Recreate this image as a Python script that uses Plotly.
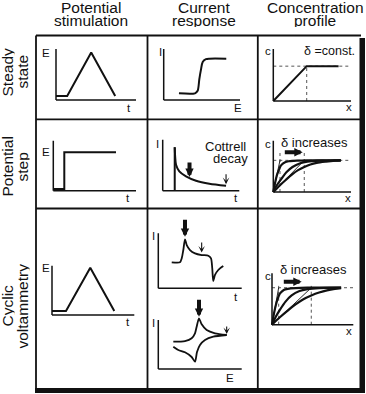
import plotly.graph_objects as go

W, H = 366, 394
INK = "#111111"
DOT = "#555555"
FONT = "Liberation Sans, Arial, Helvetica, sans-serif"

# ---------------- data (normalised units) ----------------
col_titles = [["Potential", "stimulation"], ["Current", "response"], ["Concentration", "profile"]]
row_titles = [["Steady", "state"], ["Potential", "step"], ["Cyclic", "voltammetry"]]

# Steady state
ss_time = [0.0, 0.14, 0.44, 0.74]
ss_potential = [0.08, 0.08, 0.93, 0.08]
ss_E = [0.20, 0.41, 0.445, 0.467, 0.489, 0.511, 0.554, 0.60, 0.82]
ss_I = [0.13, 0.13, 0.18, 0.41, 0.60, 0.745, 0.80, 0.81, 0.81]
ss_x = [0.0, 0.43, 0.84]
ss_c = [0.0, 0.67, 0.67]

# Potential step
ps_time = [0.0, 0.133, 0.133, 0.758]
ps_potential = [0.034, 0.034, 0.768, 0.768]
ps_t = [0.157, 0.163, 0.174, 0.217, 0.304, 0.435, 0.609, 0.827]
ps_I = [0.851, 0.66, 0.51, 0.38, 0.282, 0.196, 0.137, 0.098]
ps_x1 = [0, 0.06, 0.12, 0.19, 0.25, 0.38, 0.5, 0.75, 1.1, 2.18]
ps_c1 = [0, 0.30, 0.54, 0.72, 0.84, 0.94, 0.97, 0.99, 1.0, 1.0]
ps_x2 = [0, 0.12, 0.25, 0.43, 0.62, 0.87, 1.1, 1.5, 2.18]
ps_c2 = [0, 0.22, 0.40, 0.63, 0.79, 0.91, 0.96, 0.99, 1.0]
ps_x3 = [0, 0.2, 0.4, 0.6, 0.8, 1.0, 1.2, 1.4, 1.7, 2.0, 2.18]
ps_c3 = [0, 0.20, 0.38, 0.55, 0.69, 0.79, 0.87, 0.92, 0.96, 0.99, 1.0]
ps_delta = [0.216, 1.0]

# Cyclic voltammetry
cv_time = [0.0, 0.17, 0.465, 0.757]
cv_potential = [0.081, 0.081, 0.959, 0.081]
cv_t = [0.161, 0.26, 0.281, 0.30, 0.32, 0.341, 0.38, 0.44, 0.52, 0.60, 0.632, 0.647, 0.659, 0.68, 0.719, 0.779]
cv_It = [0.473, 0.473, 0.545, 0.696, 0.891, 0.787, 0.696, 0.636, 0.605, 0.593, 0.545, 0.364, 0.133, 0.242, 0.333, 0.405]
cv_E_fwd = [0.18, 0.32, 0.40, 0.44, 0.46, 0.488, 0.52, 0.58, 0.68, 0.82]
cv_I_fwd = [0.557, 0.571, 0.627, 0.729, 0.863, 1.035, 0.912, 0.796, 0.729, 0.694]
cv_E_rev = [0.82, 0.659, 0.56, 0.50, 0.464, 0.44, 0.40, 0.32, 0.24, 0.18]
cv_I_rev = [0.694, 0.659, 0.592, 0.49, 0.347, 0.149, 0.245, 0.341, 0.388, 0.455]
cv_x1 = [0, 0.05, 0.1, 0.15, 0.2, 0.3, 0.4, 0.6, 0.9, 1.76]
cv_c1 = [0, 0.30, 0.54, 0.72, 0.84, 0.94, 0.97, 0.99, 1.0, 1.0]
cv_x2 = [0, 0.1, 0.2, 0.35, 0.5, 0.7, 0.9, 1.2, 1.76]
cv_c2 = [0, 0.22, 0.40, 0.63, 0.79, 0.91, 0.96, 0.99, 1.0]
cv_x3 = [0, 0.2, 0.4, 0.6, 0.8, 1.0, 1.2, 1.4, 1.6, 1.76]
cv_c3 = [0, 0.20, 0.38, 0.55, 0.69, 0.79, 0.87, 0.93, 0.97, 0.99]
cv_delta = [0.17, 1.0]

# ---------------- helpers ----------------
fig = go.Figure()
axes_layout = {}
shapes = []
annotations = []


def axis_ids(i):
    s = "" if i == 1 else str(i)
    return "x" + s, "y" + s, "xaxis" + s, "yaxis" + s


def paper(px, py):
    return px / W, 1 - py / H


def make_panel(i, ox, oy, xe, yt, X, Y, pad=8):
    xr, yr, xk, yk = axis_ids(i)
    sx = X / (xe - ox)
    sy = Y / (oy - yt)
    axes_layout[xk] = dict(domain=[(ox - pad) / W, (xe + pad) / W], range=[-pad * sx, X + pad * sx],
                           visible=False, anchor=yr, fixedrange=True)
    axes_layout[yk] = dict(domain=[1 - (oy + pad) / H, 1 - (yt - pad) / H], range=[-pad * sy, Y + pad * sy],
                           visible=False, anchor=xr, fixedrange=True)
    for (x0, y0, x1, y1) in [(0, 0, X, 0), (0, 0, 0, Y)]:
        shapes.append(dict(type="line", xref=xr, yref=yr, x0=x0, y0=y0, x1=x1, y1=y1,
                           line=dict(color=INK, width=1.5)))
    return xr, yr


def curve(ref, x, y, width=2.0, shape="linear", dash=None, color=INK, smoothing=1.0):
    line = dict(color=color, width=width, shape=shape)
    if shape == "spline":
        line["smoothing"] = smoothing
    if dash:
        line["dash"] = dash
    fig.add_trace(go.Scatter(x=x, y=y, mode="lines", line=line, xaxis=ref[0], yaxis=ref[1],
                             hoverinfo="skip", showlegend=False))


def label(text, px, py, size, angle=0, box_h=None):
    x, y = paper(px, py)
    a = dict(text=text, x=x, y=y, xref="paper", yref="paper", showarrow=False,
             xanchor="center", yanchor="middle", textangle=angle, borderpad=0,
             font=dict(family=FONT, size=size, color=INK))
    if box_h:
        a["height"] = box_h
        a["valign"] = "middle"
    annotations.append(a)


def arrow(xref, yref, x, y, ax, ay, width, head, size, standoff=0):
    annotations.append(dict(text="", x=x, y=y, xref=xref, yref=yref, ax=ax, ay=ay,
                            axref="pixel", ayref="pixel", showarrow=True, arrowhead=head,
                            arrowsize=size, arrowwidth=width, arrowcolor=INK, standoff=standoff))


def pline(px0, py0, px1, py1, w=1.8):
    x0, y0 = paper(px0, py0)
    x1, y1 = paper(px1, py1)
    shapes.append(dict(type="line", xref="paper", yref="paper", x0=x0, y0=y0, x1=x1, y1=y1,
                       line=dict(color=INK, width=w)))


def prect(px0, py0, px1, py1):
    x0, y0 = paper(px0, py0)
    x1, y1 = paper(px1, py1)
    shapes.append(dict(type="rect", xref="paper", yref="paper", x0=x0, y0=y0, x1=x1, y1=y1,
                       fillcolor=INK, line=dict(width=0)))


# ---------------- table frame ----------------
pline(36, 35.5, 361, 35.5)
pline(36, 35.5, 36, 390)
pline(147.5, 35.5, 147.5, 390)
pline(257.8, 35.5, 257.8, 390)
pline(36, 119.3, 361, 119.3)
pline(36, 208.5, 361, 208.5)
prect(359.5, 38, 365, 393)
prect(35, 388, 365, 393)

# headers
hx = [91, 204, 315]
for cx, (l1, l2) in zip(hx, col_titles):
    label(l1, cx, 7.8, 15.5, box_h=13)
    label(l2, cx, 21, 15.5, box_h=13)
ry = [72, 167, 306]
for cy, (l1, l2) in zip(ry, row_titles):
    label(l1, 7.5, cy, 15.5, -90, box_h=14)
    label(l2, 22.5, cy, 15.5, -90, box_h=14)

# ---------------- Steady state ----------------
p1 = make_panel(1, 56, 100, 136, 49, 1, 1)
curve(p1, ss_time, ss_potential, 2)

p2 = make_panel(2, 163.7, 100, 240, 49, 1, 1)
curve(p2, ss_E, ss_I, 2, "spline", smoothing=0.8)

p3 = make_panel(3, 273.3, 101, 351, 49, 1, 1)
curve(p3, [0, 1], [ss_c[1], ss_c[1]], 1, dash="dot", color=DOT)
curve(p3, [ss_x[1], ss_x[1]], [0, ss_c[1]], 1, dash="dot", color=DOT)
curve(p3, ss_x, ss_c, 2)

# ---------------- Potential step ----------------
p4 = make_panel(4, 53.3, 190.7, 136, 140.7, 1, 1)
curve(p4, ps_time, ps_potential, 2)

p5 = make_panel(5, 162.7, 190.7, 239.3, 139.7, 1, 1)
curve(p5, [ps_t[0], ps_t[0]], [0, ps_I[0]], 2)
curve(p5, ps_t, ps_I, 2, "spline", smoothing=0.8)
arrow(p5[0], p5[1], 0.35, 0.27, 0, -16, 4, 2, 0.42)
arrow(p5[0], p5[1], ps_t[-1], ps_I[-1], 0, -13, 1.1, 3, 1.0, standoff=1.5)

p6 = make_panel(6, 273.3, 192, 351, 140.7, 2.51, 1.62)
curve(p6, [0, 2.51], [1, 1], 1, dash="dot", color=DOT)
for d in ps_delta:
    curve(p6, [d, d], [0, 1.3], 1, dash="dot", color=DOT)
    curve(p6, [0, d], [0, 1], 0.9)
for xs, cs in [(ps_x1, ps_c1), (ps_x2, ps_c2), (ps_x3, ps_c3)]:
    curve(p6, xs, cs, 2.2, "spline", smoothing=0.8)

# ---------------- Cyclic voltammetry ----------------
p7 = make_panel(7, 52, 315, 134.3, 265.7, 1, 1)
curve(p7, cv_time, cv_potential, 2)

p8 = make_panel(8, 158.3, 288.3, 241.7, 233.3, 1, 1)
curve(p8, cv_t, cv_It, 1.8, "spline", smoothing=0.7)
arrow(p8[0], p8[1], cv_t[4], cv_It[4], 0, -21, 4, 2, 0.42, standoff=2.5)
arrow(p8[0], p8[1], cv_t[8], cv_It[8], 0, -14, 1.1, 3, 1.0, standoff=2.5)

p9 = make_panel(9, 158.3, 369, 241.7, 320, 1, 1)
curve(p9, cv_E_fwd, cv_I_fwd, 1.8, "spline", smoothing=0.7)
curve(p9, cv_E_rev, cv_I_rev, 1.8, "spline", smoothing=0.7)
arrow(p9[0], p9[1], cv_E_fwd[5], cv_I_fwd[5], 0, -20, 4, 2, 0.42, standoff=1.5)
arrow(p9[0], p9[1], cv_E_fwd[-1], cv_I_fwd[-1], 0, -10, 1.1, 3, 1.0, standoff=1)

p10 = make_panel(10, 272, 324.7, 353.3, 273.3, 2.07, 1.39)
curve(p10, [0, 2.07], [1, 1], 1, dash="dot", color=DOT)
for d in cv_delta:
    curve(p10, [d, d], [0, 1.05], 1, dash="dot", color=DOT)
    curve(p10, [0, d], [0, 1], 0.9)
for xs, cs in [(cv_x1, cv_c1), (cv_x2, cv_c2), (cv_x3, cv_c3)]:
    curve(p10, xs, cs, 2.2, "spline", smoothing=0.8)

# horizontal "delta increases" arrows
tx, ty = paper(302.7, 152.3)
arrow("paper", "paper", tx, ty, -19.4, 0, 4, 2, 0.42)
tx, ty = paper(301.7, 281.7)
arrow("paper", "paper", tx, ty, -19.4, 0, 4, 2, 0.42)

# ---------------- texts ----------------
axis_labels = [
    ("E", 46, 53), ("t", 129, 108), ("I", 160, 52), ("E", 237.7, 107.7), ("c", 267.7, 51), ("x", 348.7, 106.7),
    ("E", 46, 152), ("t", 127.7, 198), ("I", 157.7, 144), ("t", 236, 198), ("c", 267.7, 144.3), ("x", 347.7, 197.7),
    ("E", 46, 268.3), ("t", 128.3, 322.3), ("I", 153.3, 235.7), ("t", 235.7, 296.7),
    ("I", 153.3, 323.3), ("E", 230, 378.3), ("c", 267.7, 275.7), ("x", 349, 331.3),
]
for t, x, y in axis_labels:
    label(t, x, y, 11.5)

label("δ =const.", 329, 51, 12.5)
label("Cottrell", 225.5, 146.3, 13)
label("decay", 230, 158.8, 13)
label("δ increases", 314, 142.5, 13)
label("δ increases", 313.3, 269.5, 13)

fig.update_layout(
    width=W, height=H, margin=dict(l=0, r=0, t=0, b=0),
    paper_bgcolor="white", plot_bgcolor="rgba(0,0,0,0)",
    shapes=shapes, annotations=annotations, showlegend=False,
    **axes_layout,
)

fig.write_html("out.html", include_plotlyjs=True,
               config={"displayModeBar": False, "staticPlot": True},
               post_script="document.body.style.margin='0';document.body.style.overflow='hidden';")
